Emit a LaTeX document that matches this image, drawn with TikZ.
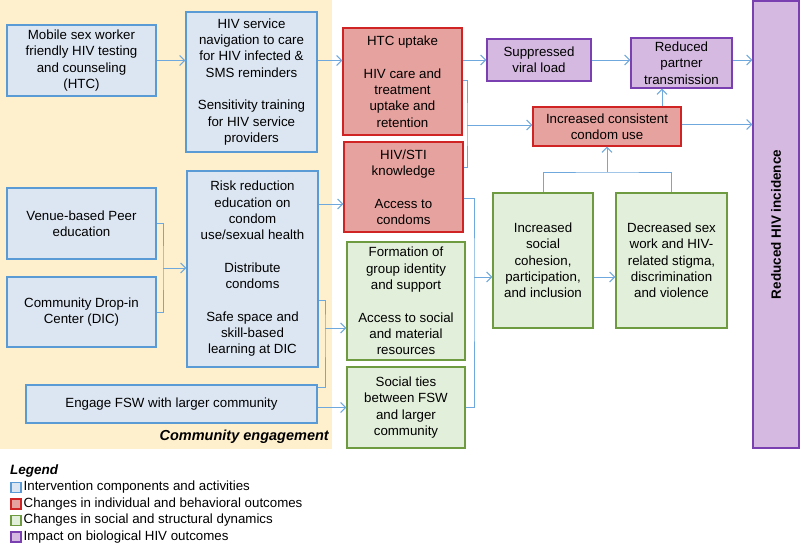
\documentclass[tikz,border=0pt]{standalone}
\usepackage{fontspec}
\setmainfont{Liberation Sans}
\usetikzlibrary{arrows.meta,calc}
\definecolor{bgY}{HTML}{FEF0CD}
\definecolor{bFill}{HTML}{DCE6F2}
\definecolor{bLine}{HTML}{5B9BD5}
\definecolor{rFill}{HTML}{E6A29E}
\definecolor{rLine}{HTML}{D02424}
\definecolor{pFill}{HTML}{D5B9E1}
\definecolor{pLine}{HTML}{7A3FB0}
\definecolor{gFill}{HTML}{E2EFDA}
\definecolor{gLine}{HTML}{6E9A40}
\definecolor{arrC}{HTML}{6FA8DC}
\begin{document}
\begin{tikzpicture}[x=1pt,y=-1pt,
  box/.style={draw, line width=1.4pt, align=center, inner sep=0pt,
    font=\fontsize{13.3}{16.3}\selectfont},
  bbox/.style={box, fill=bFill, draw=bLine},
  rbox/.style={box, fill=rFill, draw=rLine},
  pbox/.style={box, fill=pFill, draw=pLine},
  gbox/.style={box, fill=gFill, draw=gLine},
  conn/.style={draw=arrC, line width=1pt},
  arr/.style={conn, -{Straight Barb[length=5pt,width=10pt]}},
  legsq/.style={draw, line width=1.2pt, minimum width=10pt, minimum height=10pt, inner sep=0pt},
  legtxt/.style={anchor=west, inner sep=0pt, font=\fontsize{13.3}{16}\selectfont},
]
\useasboundingbox (0,0) rectangle (800,544);
\fill[bgY] (0,0) rectangle (332,449);

% intervention boxes
\node[bbox, minimum width=149pt, minimum height=71pt] (htc) at (81.5,60.5)
  {Mobile sex worker\\friendly HIV testing\\and counseling\\(HTC)};
\node[bbox, minimum width=131pt, minimum height=140pt] (nav) at (251.5,82)
  {HIV service\\navigation to care\\for HIV infected \&\\SMS reminders\\[16.3pt]Sensitivity training\\for HIV service\\providers};
\node[bbox, minimum width=149pt, minimum height=71pt] (venue) at (81.5,223.5)
  {Venue-based Peer\\education};
\node[bbox, minimum width=149pt, minimum height=70pt] (dic) at (81.5,312)
  {Community Drop-in\\Center (DIC)};
\node[bbox, minimum width=131pt, minimum height=196pt] (risk) at (252.5,269)
  {Risk reduction\\education on\\condom\\use/sexual health\\[16.3pt]Distribute\\condoms\\[16.3pt]Safe space and\\skill-based\\learning at DIC};
\node[bbox, minimum width=291pt, minimum height=38pt] (engage) at (171.5,404)
  {Engage FSW with larger community};
\node[anchor=east, inner sep=0pt, font=\fontsize{14.5}{17}\selectfont\bfseries\itshape] (ce) at (329,437) {Community engagement};

% individual outcomes
\node[rbox, minimum width=119pt, minimum height=107pt] (uptake) at (402.5,81.5)
  {HTC uptake\\[16.3pt]HIV care and\\treatment\\uptake and\\retention};
\node[rbox, minimum width=119pt, minimum height=90pt] (know) at (403.5,187)
  {HIV/STI\\knowledge\\[16.3pt]Access to\\condoms};
\node[rbox, minimum width=148pt, minimum height=39pt] (condom) at (607,126.5)
  {Increased consistent\\condom use};

% biological
\node[pbox, minimum width=104pt, minimum height=42pt] (svl) at (539,60)
  {Suppressed\\viral load};
\node[pbox, minimum width=101pt, minimum height=50pt] (rpt) at (681.5,63)
  {Reduced\\partner\\transmission};
\node[pbox, minimum width=46pt, minimum height=447pt] (inc) at (776,224.5) {};
\node[rotate=90, inner sep=0pt, font=\fontsize{13.5}{16}\selectfont\bfseries] (inct) at (inc.center) {Reduced HIV incidence};

% social
\node[gbox, minimum width=118pt, minimum height=118pt] (form) at (406,301)
  {Formation of\\group identity\\and support\\[16.3pt]Access to social\\and material\\resources};
\node[gbox, minimum width=118pt, minimum height=81pt] (ties) at (406,407.5)
  {Social ties\\between FSW\\and larger\\community};
\node[gbox, minimum width=100pt, minimum height=135pt] (coh) at (543,260.5)
  {Increased\\social\\cohesion,\\participation,\\and inclusion};
\node[gbox, minimum width=111pt, minimum height=135pt] (stig) at (671.5,260.5)
  {Decreased sex\\work and HIV-\\related stigma,\\discrimination\\and violence};

% connectors
\draw[arr] (htc.east) -- (htc.east -| nav.west);
\draw[arr] (nav.east |- htc.east) -- (uptake.west |- htc.east);
\draw[arr] (uptake.east |- svl.west) -- (svl.west);
\draw[arr] (svl.east) -- (rpt.west |- svl.east);
\draw[arr] (rpt.east |- svl.east) -- (inc.west |- svl.east);

\coordinate (jA) at (467,125);
\coordinate (kA) at ([yshift=20pt]know.east);
\draw[conn] ([yshift=1.5pt]uptake.east) -| (jA) |- (kA);
\draw[arr] (jA) -- (jA -| condom.west);

\coordinate (cN) at ([xshift=55pt]condom.north);
\draw[arr] (cN) -- (cN |- rpt.south);
\draw[arr] ([yshift=2pt]condom.east) -- ([yshift=2pt]condom.east -| inc.west);

\coordinate (jB) at (607,172);
\draw[conn] (coh.north) |- (jB) -| (stig.north);
\draw[arr] (jB) -- (jB |- condom.south);

\coordinate (kin) at ([yshift=-17pt]know.west);
\draw[arr] (kin -| risk.east) -- (kin);

\coordinate (jC) at (325,328);
\coordinate (rC) at ([yshift=-31pt]risk.east);
\coordinate (eC) at ([yshift=17pt]engage.east);
\draw[conn] (rC) -| (jC) |- (eC);
\draw[arr] (jC) -- (jC -| form.west);

\draw[arr] (ties.west -| engage.east) -- (ties.west);

\coordinate (jD) at (474,277);
\coordinate (kD) at ([yshift=-11pt]know.east);
\draw[conn] (kD) -| (jD) |- (ties.east);
\draw[arr] (jD) -- (jD -| coh.west);
\draw[arr] (jD -| coh.east) -- (jD -| stig.west);

\coordinate (jE) at (163,268);
\draw[conn] (venue.east) -| (jE) |- (dic.east);
\draw[arr] (jE) -- (jE -| risk.west);

% legend
\node[anchor=west, inner sep=0pt, font=\fontsize{13.5}{16}\selectfont\bfseries\itshape] (leg) at (10,471) {Legend};
\node[legsq, fill=bFill, draw=bLine] (s1) at (16,487.5) {};
\node[legtxt] (t1) at (23.5,487.5) {Intervention components and activities};
\node[legsq, fill=rFill, draw=rLine] (s2) at (16,504) {};
\node[legtxt] (t2) at (23.5,504) {Changes in individual and behavioral outcomes};
\node[legsq, fill=gFill, draw=gLine] (s3) at (16,520.5) {};
\node[legtxt] (t3) at (23.5,520.5) {Changes in social and structural dynamics};
\node[legsq, fill=pFill, draw=pLine] (s4) at (16,537) {};
\node[legtxt] (t4) at (23.5,537) {Impact on biological HIV outcomes};
\end{tikzpicture}
\end{document}
